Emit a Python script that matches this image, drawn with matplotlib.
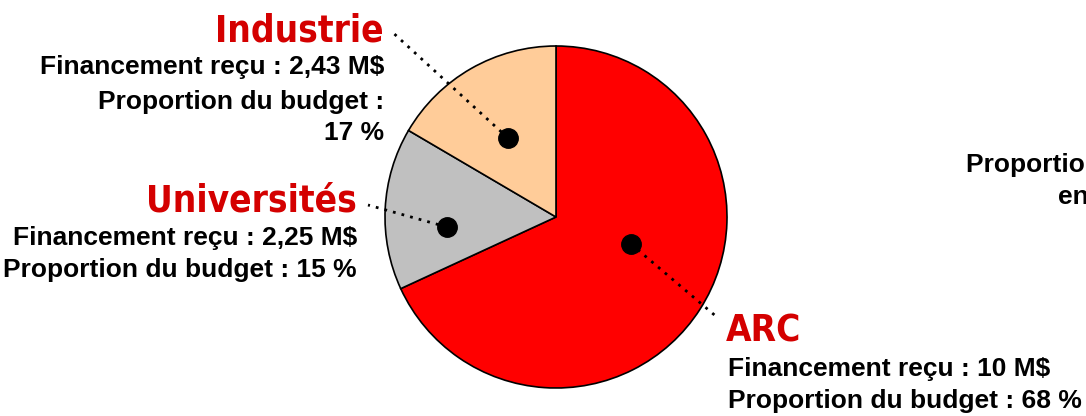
import matplotlib.pyplot as plt

categories = ['ARC', 'Universités', 'Industrie']
financement = [10, 2.25, 2.43]          # M$
proportion = [68, 15, 17]               # %
colors = ['#FF0000', '#C0C0C0', '#FFCC99']

W, H = 1086, 416
fig = plt.figure(figsize=(W / 100, H / 100), dpi=100)
ax = fig.add_axes([0, 0, 1, 1])


def py(y):
    # pixel y from the top -> data y
    return H - y


ax.pie(financement, colors=colors, startangle=90, counterclock=False,
       center=(556, py(217)), radius=171, frame=True,
       wedgeprops=dict(edgecolor='black', linewidth=1.2))
ax.set_xlim(0, W)
ax.set_ylim(0, H)
ax.set_aspect('equal')
ax.axis('off')

title_font = dict(family='DejaVu Sans', stretch='condensed', weight='heavy',
                  size=26.5, color='#D40000')
body_font = dict(family='Liberation Sans', weight='bold', size=19, color='black')

# dots and dotted leader lines
leaders = {
    'Industrie': ((508, 138), (390, 30)),
    'Universités': ((447, 227), (368, 205)),
    'ARC': ((631, 244), (718, 318)),
}
for name, (dot, end) in leaders.items():
    ax.plot([dot[0], end[0]], [py(dot[1]), py(end[1])], color='black',
            linestyle=(0, (1, 2.2)), linewidth=2)
    ax.plot(dot[0], py(dot[1]), 'o', color='black', markersize=14)

# Industrie
i = categories.index('Industrie')
ax.text(384, py(41), 'Industrie', ha='right', va='baseline', **title_font)
ax.text(384, py(67), 'Financement reçu : %s M$' % str(financement[i]).replace('.', ','),
        ha='right', va='center', **body_font)
ax.text(384, py(102), 'Proportion du budget :', ha='right', va='center', **body_font)
ax.text(384, py(133), '%d %%' % proportion[i], ha='right', va='center', **body_font)

# Universités
u = categories.index('Universités')
ax.text(357, py(212), 'Universités', ha='right', va='baseline', **title_font)
ax.text(357, py(238), 'Financement reçu : %s M$' % str(financement[u]).replace('.', ','),
        ha='right', va='center', **body_font)
ax.text(357, py(270), 'Proportion du budget : %d %%' % proportion[u],
        ha='right', va='center', **body_font)

# ARC
a = categories.index('ARC')
ax.text(726, py(342), 'ARC', ha='left', va='baseline', **title_font)
ax.text(728, py(369), 'Financement reçu : %d M$' % financement[a],
        ha='left', va='center', **body_font)
ax.text(728, py(401), 'Proportion du budget : %d %%' % proportion[a],
        ha='left', va='center', **body_font)

# text cut off at the right edge, as in the original slide
ax.text(966, py(165), 'Proportion du financement', ha='left', va='center', **body_font)
ax.text(1058, py(197), 'en 2010', ha='left', va='center', **body_font)

fig.savefig('out.png', dpi=100)
